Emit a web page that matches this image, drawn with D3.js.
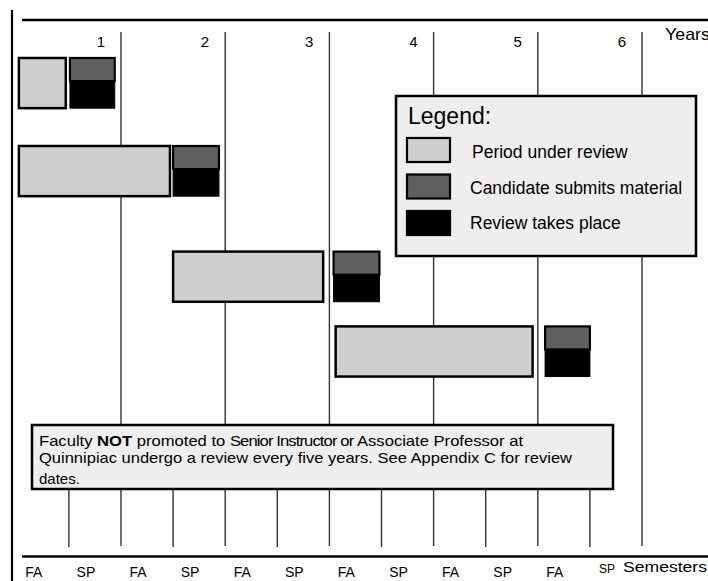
<!DOCTYPE html>
<html>
<head>
<meta charset="utf-8">
<script src="https://cdn.jsdelivr.net/npm/d3@7"></script>
<style>
  body { margin: 0; background: #fff; }
  svg { display: block; font-family: "Liberation Sans", Arial, sans-serif; }
</style>
</head>
<body>
<div class="chart"></div>
<script>
// year ticks along the top, semesters along the bottom
var years = [1, 2, 3, 4, 5, 6];
var semesters = ['FA', 'SP', 'FA', 'SP', 'FA', 'SP', 'FA', 'SP', 'FA', 'SP', 'FA', 'SP'];

// one row per review cycle (times in years from first FA semester)
var rowLevel    = [0, 1, 2.2, 3.05];
var periodStart = [0.02, 0.02, 1.50, 3.06];
var periodEnd   = [0.47, 1.47, 2.94, 4.95];
var submitStart = [0.51, 1.50, 3.04, 5.07];
var submitEnd   = [0.94, 1.94, 3.48, 5.50];

var legendNames  = ['Period under review', 'Candidate submits material', 'Review takes place'];
var legendColors = ['#cfcfcf', '#5f5f5f', '#000000'];

var width = 708, height = 581;

var svg = d3.select('.chart').append('svg')
  .attr('width', width)
  .attr('height', height);

var x = d3.scaleLinear().domain([0, 6]).range([16.8, 642]);
var y = d3.scaleLinear().domain([0, 1]).range([58, 146]);
var boxH = y(0.57) - y(0);

// frame lines
svg.append('line').attr('x1', 12).attr('x2', 12).attr('y1', 10).attr('y2', height)
  .attr('stroke', '#000').attr('stroke-width', 2.2);
svg.append('line').attr('x1', 22).attr('x2', width).attr('y1', 20).attr('y2', 20)
  .attr('stroke', '#000').attr('stroke-width', 2.6);
svg.append('line').attr('x1', 22).attr('x2', width).attr('y1', 556.5).attr('y2', 556.5)
  .attr('stroke', '#000').attr('stroke-width', 2.6);

// year grid lines
svg.append('g').selectAll('line')
  .data(years)
  .enter().append('line')
  .attr('x1', function(d) { return x(d); })
  .attr('x2', function(d) { return x(d); })
  .attr('y1', 32)
  .attr('y2', 546)
  .attr('stroke', '#333')
  .attr('stroke-width', 1.4);

// semester lines (only below the note)
svg.append('g').selectAll('line')
  .data(years.map(function(d) { return d - 0.5; }))
  .enter().append('line')
  .attr('x1', function(d) { return x(d); })
  .attr('x2', function(d) { return x(d); })
  .attr('y1', 489)
  .attr('y2', 547)
  .attr('stroke', '#333')
  .attr('stroke-width', 1.4);

// year labels
svg.append('g').selectAll('text')
  .data(years)
  .enter().append('text')
  .attr('x', function(d) { return x(d) - 16; })
  .attr('y', 47)
  .attr('text-anchor', 'end')
  .attr('font-size', 15)
  .text(function(d) { return d; });

svg.append('text').attr('x', 665).attr('y', 40).attr('font-size', 16.5)
  .attr('textLength', 45).attr('lengthAdjust', 'spacingAndGlyphs').text('Years');

// semester labels
svg.append('g').selectAll('text')
  .data(semesters)
  .enter().append('text')
  .attr('x', function(d, i) { return x(i * 0.5) + 17; })
  .attr('y', function(d, i) { return i == semesters.length - 1 ? 573 : 577; })
  .attr('text-anchor', 'middle')
  .attr('font-size', function(d, i) { return i == semesters.length - 1 ? 12 : 14; })
  .text(function(d) { return d; });

svg.append('text').attr('x', 623).attr('y', 572).attr('font-size', 15.5)
  .attr('textLength', 84).attr('lengthAdjust', 'spacingAndGlyphs').text('Semesters');

// rows
var rows = rowLevel.map(function(l, i) {
  return {level: l, p0: periodStart[i], p1: periodEnd[i], s0: submitStart[i], s1: submitEnd[i]};
});
var rowG = svg.append('g').selectAll('g')
  .data(rows)
  .enter().append('g');

rowG.append('rect')
  .attr('x', function(d) { return x(d.p0); })
  .attr('y', function(d) { return y(d.level); })
  .attr('width', function(d) { return x(d.p1) - x(d.p0); })
  .attr('height', boxH)
  .attr('fill', legendColors[0])
  .attr('stroke', '#000')
  .attr('stroke-width', 2.5);

rowG.append('rect')
  .attr('x', function(d) { return x(d.s0); })
  .attr('y', function(d) { return y(d.level) + boxH * 0.47; })
  .attr('width', function(d) { return x(d.s1) - x(d.s0); })
  .attr('height', boxH * 0.53)
  .attr('fill', legendColors[2])
  .attr('stroke', '#000')
  .attr('stroke-width', 1);

rowG.append('rect')
  .attr('x', function(d) { return x(d.s0); })
  .attr('y', function(d) { return y(d.level); })
  .attr('width', function(d) { return x(d.s1) - x(d.s0); })
  .attr('height', boxH * 0.46)
  .attr('fill', legendColors[1])
  .attr('stroke', '#000')
  .attr('stroke-width', 2.2);

// legend
var legend = svg.append('g').attr('class', 'legend');
legend.append('rect')
  .attr('x', 396).attr('y', 96).attr('width', 300).attr('height', 160)
  .attr('fill', '#eeeeee').attr('stroke', '#000').attr('stroke-width', 2.5);
legend.append('text').attr('x', 408).attr('y', 124).attr('font-size', 23).text('Legend:');

legendNames.forEach(function(name, i) {
  legend.append('rect')
    .attr('x', 407).attr('y', 138 + i * 36.5)
    .attr('width', 43).attr('height', 24)
    .attr('fill', legendColors[i])
    .attr('stroke', '#000').attr('stroke-width', 2.2);
  legend.append('text')
    .attr('x', i == 0 ? 472 : 470)
    .attr('y', 158 + i * 35.5)
    .attr('font-size', 17.5)
    .text(name);
});

// note box
var note = svg.append('g').attr('class', 'note');
note.append('rect')
  .attr('x', 32).attr('y', 425).attr('width', 581).attr('height', 64)
  .attr('fill', '#eeeeee').attr('stroke', '#000').attr('stroke-width', 2.5);

var l1 = note.append('text').attr('x', 39).attr('y', 446).attr('font-size', 15)
  .attr('textLength', 484).attr('lengthAdjust', 'spacingAndGlyphs');
l1.append('tspan').text('Faculty ');
l1.append('tspan').attr('font-weight', 'bold').text('NOT');
l1.append('tspan').text(' promoted to ');
l1.append('tspan').attr('letter-spacing', -0.8).text('Senior Instructor or');
l1.append('tspan').text(' Associate Professor at');

note.append('text').attr('x', 39).attr('y', 463).attr('font-size', 15)
  .attr('textLength', 533).attr('lengthAdjust', 'spacingAndGlyphs')
  .text('Quinnipiac undergo a review every five years. See Appendix C for review');
note.append('text').attr('x', 39).attr('y', 484).attr('font-size', 15)
  .text('dates.');
</script>
</body>
</html>
